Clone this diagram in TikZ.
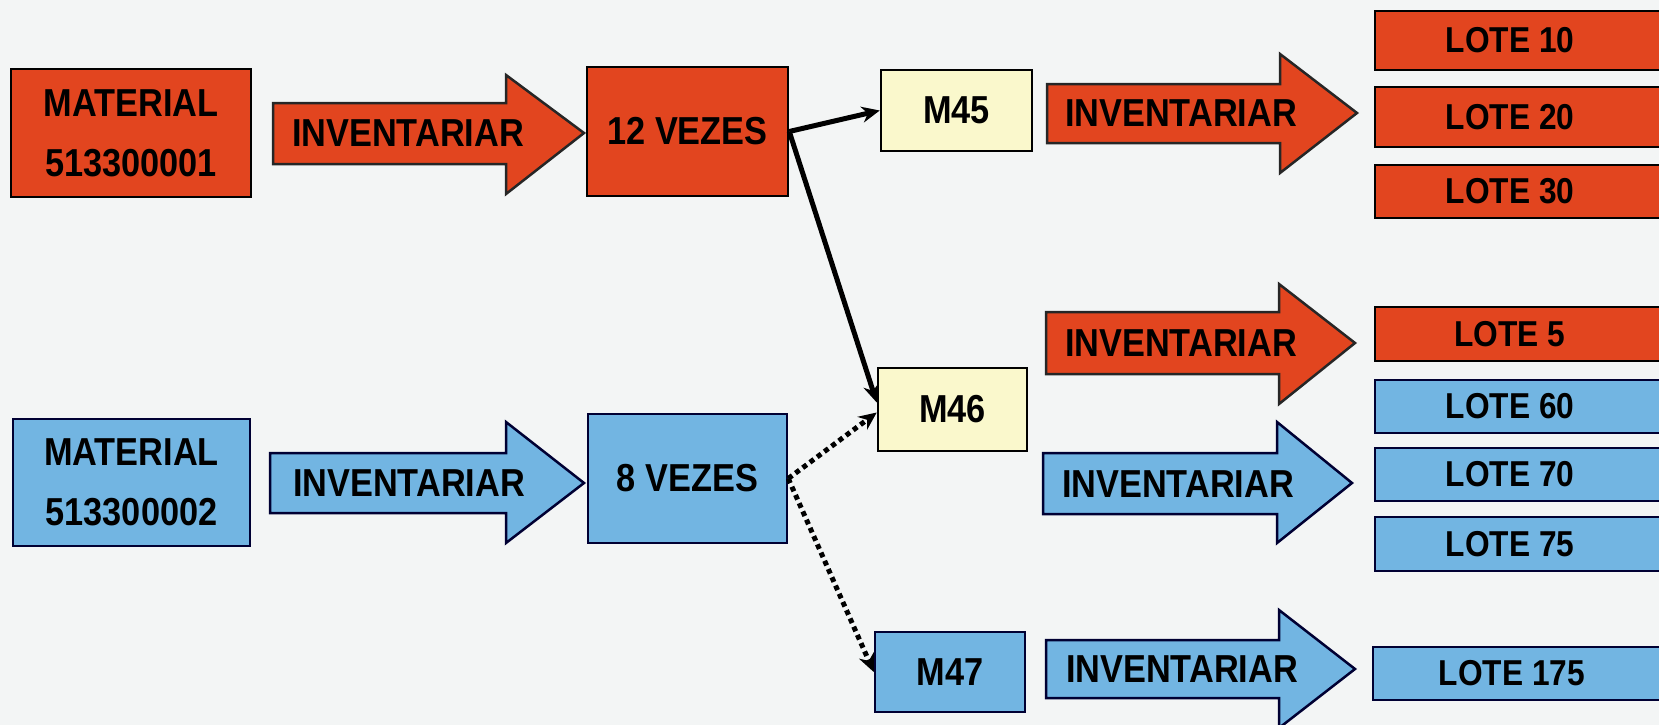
\documentclass[tikz,border=0pt]{standalone}
\usepackage{fontspec}
\setmainfont{Liberation Sans}[FakeStretch=0.88]
\usetikzlibrary{arrows.meta}
\definecolor{bg}{HTML}{F3F5F5}
\definecolor{redf}{HTML}{E2451F}
\definecolor{bluef}{HTML}{72B5E2}
\definecolor{yelf}{HTML}{FAF8CC}
\tikzset{
  box/.style={draw=black, line width=2.5pt, inner sep=0pt, font=\bfseries\fontsize{39}{60}\selectfont, align=center},
  redbox/.style={box, fill=redf},
  bluebox/.style={box, fill=bluef, draw=black!80!blue},
  yelbox/.style={box, fill=yelf},
  lotered/.style={draw=black, line width=2.5pt, fill=redf},
  loteblue/.style={draw=black!80!blue, line width=2.5pt, fill=bluef},
  lote/.style={font=\bfseries\fontsize{36}{40}\selectfont, inner sep=0pt},
  blkred/.style={draw=black!85, line width=2.5pt, fill=redf},
  blkblue/.style={draw=black!80!blue, line width=2.5pt, fill=bluef},
  lbl/.style={font=\bfseries\fontsize{39}{44}\selectfont, inner sep=0pt},
  conn/.style={line width=5pt, -{Stealth[length=18pt,width=16pt]}},
  dconn/.style={conn, dash pattern=on 5pt off 4pt}
}
\begin{document}
\begin{tikzpicture}[x=1pt,y=-1pt]
\useasboundingbox (0,0) rectangle (1659,725);
\clip (0,0) rectangle (1659,725);
\fill[bg] (0,0) rectangle (1659,725);

% left column boxes
\node[redbox, minimum width=240pt, minimum height=128pt] (mat1) at (131,133) {MATERIAL\\513300001};
\node[bluebox, minimum width=237pt, minimum height=127pt] (mat2) at (131.5,482.5) {MATERIAL\\513300002};

% block arrows left
\draw[blkred] (273,103) -- (506,103) -- (506,75) -- (584,133) -- (506,194) -- (506,164) -- (273,164) -- cycle;
\node[lbl] (inv1) at (408,133) {INVENTARIAR};
\draw[blkblue] (270,453) -- (506,453) -- (506,422) -- (584,483) -- (506,543) -- (506,513) -- (270,513) -- cycle;
\node[lbl] (inv2) at (409,483) {INVENTARIAR};

% counts
\node[redbox, minimum width=201pt, minimum height=129pt] (vez12) at (687.5,131.5) {12 VEZES};
\node[bluebox, minimum width=199pt, minimum height=129pt] (vez8) at (687.5,478.5) {8 VEZES};

% M boxes
\node[yelbox, minimum width=151pt, minimum height=81pt] (m45) at (956.5,110.5) {M45};
\node[yelbox, minimum width=149pt, minimum height=83pt] (m46) at (952.5,409.5) {M46};
\node[bluebox, minimum width=150pt, minimum height=80pt] (m47) at (950,672) {M47};

% connectors
\draw[conn] (vez12.east) -- (m45.west);
\draw[conn] (vez12.east) -- ([yshift=7pt]m46.west);
\draw[dconn] (vez8.east) -- ([yshift=-3pt]m46.west);
\draw[dconn] (vez8.east) -- (m47.west);

% block arrows right
\draw[blkred] (1047,84) -- (1280,84) -- (1280,54) -- (1357,113) -- (1280,173) -- (1280,143) -- (1047,143) -- cycle;
\node[lbl] (inv3) at (1181,113) {INVENTARIAR};
\draw[blkred] (1046,312) -- (1279,312) -- (1279,284) -- (1355,343) -- (1279,404) -- (1279,374) -- (1046,374) -- cycle;
\node[lbl] (inv4) at (1181,343) {INVENTARIAR};
\draw[blkblue] (1043,453) -- (1277,453) -- (1277,422) -- (1352,483) -- (1277,543) -- (1277,514) -- (1043,514) -- cycle;
\node[lbl] (inv5) at (1178,484) {INVENTARIAR};
\draw[blkblue] (1046,640) -- (1279,640) -- (1279,610) -- (1355,669) -- (1279,728) -- (1279,698) -- (1046,698) -- cycle;
\node[lbl] (inv6) at (1182,669) {INVENTARIAR};

% lotes
\draw[lotered] (1375,11) rectangle (1700,70);
\node[lote] (l10) at (1510,40.5) {LOTE 10};
\draw[lotered] (1375,87) rectangle (1700,147);
\node[lote] (l20) at (1510,117) {LOTE 20};
\draw[lotered] (1375,165) rectangle (1700,218);
\node[lote] (l30) at (1510,191.5) {LOTE 30};
\draw[lotered] (1375,307) rectangle (1700,361);
\node[lote] (l5) at (1510,334) {LOTE 5};
\draw[loteblue] (1375,380) rectangle (1700,433);
\node[lote] (l60) at (1510,406.5) {LOTE 60};
\draw[loteblue] (1375,448) rectangle (1700,501);
\node[lote] (l70) at (1510,474.5) {LOTE 70};
\draw[loteblue] (1375,517) rectangle (1700,571);
\node[lote] (l75) at (1510,544) {LOTE 75};
\draw[loteblue] (1373,647) rectangle (1700,700);
\node[lote] (l175) at (1512,673.5) {LOTE 175};
\end{tikzpicture}
\end{document}
